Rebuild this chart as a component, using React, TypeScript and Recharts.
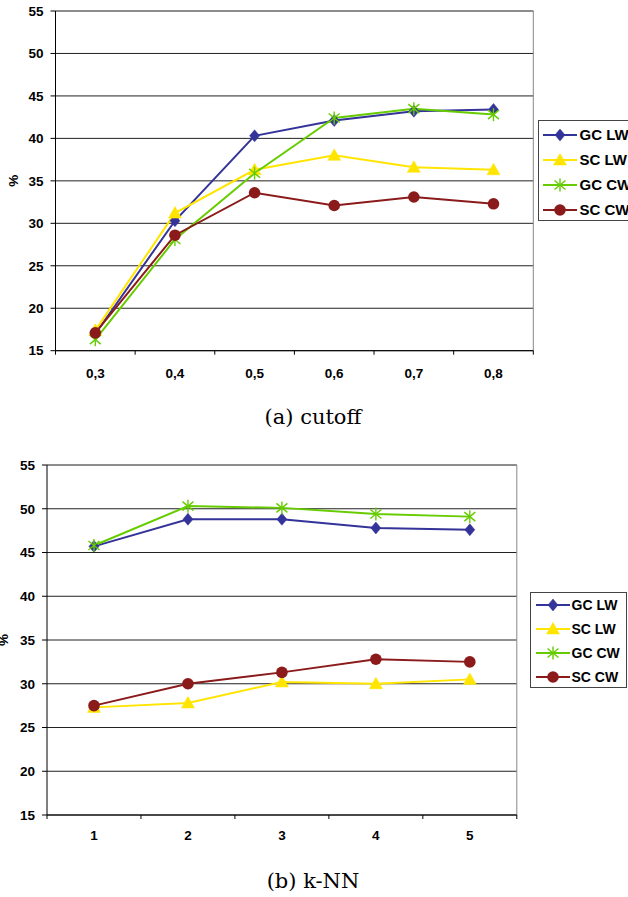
import React from 'react';
import { LineChart, Line, XAxis, YAxis, CartesianGrid, ReferenceLine } from 'recharts';

const cutoffLabels = ['0,3', '0,4', '0,5', '0,6', '0,7', '0,8'];
const cutoffGcLw = [17.0, 30.3, 40.3, 42.1, 43.2, 43.4];
const cutoffScLw = [17.4, 31.2, 36.3, 38.0, 36.6, 36.3];
const cutoffGcCw = [16.3, 28.1, 35.9, 42.4, 43.5, 42.8];
const cutoffScCw = [17.1, 28.6, 33.6, 32.1, 33.1, 32.3];

const knnLabels = ['1', '2', '3', '4', '5'];
const knnGcLw = [45.7, 48.8, 48.8, 47.8, 47.6];
const knnScLw = [27.3, 27.8, 30.2, 30.0, 30.5];
const knnGcCw = [45.8, 50.3, 50.1, 49.4, 49.1];
const knnScCw = [27.5, 30.0, 31.3, 32.8, 32.5];

const yTicks = [15, 20, 25, 30, 35, 40, 45, 50, 55];
const seriesNames = ['GC LW', 'SC LW', 'GC CW', 'SC CW'];
const seriesKeys = ['gcLw', 'scLw', 'gcCw', 'scCw'];
const seriesColors = ['#333399', '#FFE500', '#66CC00', '#8B1A1A'];
const seriesMarkers = ['diamond', 'triangle', 'star', 'circle'];

const SANS = "'Liberation Sans', Arial, sans-serif";
const TICK_FS = 13.5;

function buildRows(labels: string[], a: number[], b: number[], c: number[], d: number[]) {
  return labels.map((label, i) => ({ idx: i + 1, label, gcLw: a[i], scLw: b[i], gcCw: c[i], scCw: d[i] }));
}

const cutoffRows = buildRows(cutoffLabels, cutoffGcLw, cutoffScLw, cutoffGcCw, cutoffScCw);
const knnRows = buildRows(knnLabels, knnGcLw, knnScLw, knnGcCw, knnScCw);

function Marker({ kind, cx, cy, color }: { kind: string; cx: number; cy: number; color: string }) {
  if (kind === 'diamond') {
    return <polygon points={`${cx},${cy - 6} ${cx + 5},${cy} ${cx},${cy + 6} ${cx - 5},${cy}`} fill={color} stroke={color} strokeWidth={0.5} />;
  }
  if (kind === 'triangle') {
    return <polygon points={`${cx},${cy - 6.5} ${cx + 6.5},${cy + 5} ${cx - 6.5},${cy + 5}`} fill={color} stroke={color} strokeWidth={0.5} />;
  }
  if (kind === 'star') {
    return (
      <g stroke={color} strokeWidth={1.4}>
        <line x1={cx} y1={cy - 6.5} x2={cx} y2={cy + 6.5} />
        <line x1={cx - 5.5} y1={cy - 4.5} x2={cx + 5.5} y2={cy + 4.5} />
        <line x1={cx - 5.5} y1={cy + 4.5} x2={cx + 5.5} y2={cy - 4.5} />
      </g>
    );
  }
  return <circle cx={cx} cy={cy} r={5.8} fill={color} />;
}

function makeDot(kind: string, color: string) {
  return (props: any) => {
    const { cx, cy, index } = props;
    if (cx == null || cy == null) return <g key={`d-${index}`} />;
    return (
      <g key={`d-${kind}-${index}`}>
        <Marker kind={kind} cx={cx} cy={cy} color={color} />
      </g>
    );
  };
}

function makeXTick(labels: string[], labelOffset: number) {
  return (props: any) => {
    const { x, y, payload } = props;
    const v = payload.value;
    if (Number.isInteger(v)) {
      return (
        <text x={x} y={y + labelOffset} textAnchor="middle" fontFamily={SANS} fontWeight="bold" fontSize={TICK_FS} fill="#000">
          {labels[v - 1]}
        </text>
      );
    }
    return <line x1={x} y1={y} x2={x} y2={y + 4} stroke="#000" strokeWidth={1} />;
  };
}

function PctLabel(px: number) {
  return (props: any) => {
    const vb = props.viewBox || {};
    const cx = (vb.x || 0) + px;
    const cy = (vb.y || 0) + (vb.height || 0) / 2;
    return (
      <text x={cx} y={cy} transform={`rotate(-90 ${cx} ${cy})`} textAnchor="middle" dominantBaseline="central" fontFamily={SANS} fontWeight="bold" fontSize={TICK_FS} fill="#000">
        %
      </text>
    );
  };
}

type PanelProps = {
  rows: any[];
  labels: string[];
  width: number;
  height: number;
  margin: { top: number; right: number; bottom: number; left: number };
  yAxisWidth: number;
  labelOffset: number;
  pctX: number;
};

function Panel({ rows, labels, width, height, margin, yAxisWidth, labelOffset, pctX }: PanelProps) {
  const n = labels.length;
  const xTicks: number[] = [];
  for (let i = 0; i <= n * 2; i++) xTicks.push(0.5 + i * 0.5);
  return (
    <LineChart width={width} height={height} data={rows} margin={margin}>
      <CartesianGrid horizontal vertical={false} stroke="#222" strokeWidth={1} />
      <XAxis
        dataKey="idx"
        type="number"
        domain={[0.5, n + 0.5]}
        ticks={xTicks}
        interval={0}
        tickLine={false}
        tickSize={0}
        tickMargin={0}
        height={30}
        axisLine={{ stroke: '#000', strokeWidth: 1 }}
        tick={makeXTick(labels, labelOffset)}
      />
      <YAxis
        type="number"
        domain={[15, 55]}
        ticks={yTicks}
        interval={0}
        width={yAxisWidth}
        tickSize={5}
        tickMargin={7}
        axisLine={{ stroke: '#000', strokeWidth: 1 }}
        tickLine={{ stroke: '#000', strokeWidth: 1 }}
        tick={{ fontFamily: SANS, fontWeight: 'bold', fontSize: TICK_FS, fill: '#000' }}
        label={{ content: PctLabel(pctX) } as any}
      />
      <ReferenceLine y={55} stroke="#888" strokeWidth={1} />
      <ReferenceLine x={n + 0.5} stroke="#888" strokeWidth={1} />
      {seriesKeys.map((k, i) => (
        <Line
          key={k}
          dataKey={k}
          name={seriesNames[i]}
          stroke={seriesColors[i]}
          strokeWidth={2}
          isAnimationActive={false}
          dot={makeDot(seriesMarkers[i], seriesColors[i])}
          activeDot={false}
        />
      ))}
    </LineChart>
  );
}

function LegendBox({ left, top, width, height, rowGap, firstRow, sampleLeft, sampleWidth, textLeft, fontSize }: any) {
  return (
    <div
      style={{
        position: 'absolute',
        left,
        top,
        width,
        height,
        border: '1px solid #444',
        boxSizing: 'border-box',
        background: '#fff',
      }}
    >
      {seriesNames.map((name, i) => {
        const cy = firstRow + i * rowGap;
        return (
          <div key={name}>
            <svg style={{ position: 'absolute', left: sampleLeft, top: cy - 8 }} width={sampleWidth} height={16}>
              <line x1={0} y1={8} x2={sampleWidth} y2={8} stroke={seriesColors[i]} strokeWidth={2} />
              <Marker kind={seriesMarkers[i]} cx={sampleWidth / 2} cy={8} color={seriesColors[i]} />
            </svg>
            <div
              style={{
                position: 'absolute',
                left: textLeft,
                top: cy - fontSize * 0.6,
                fontFamily: SANS,
                fontWeight: 'bold',
                fontSize,
                lineHeight: `${fontSize * 1.2}px`,
                whiteSpace: 'nowrap',
                color: '#000',
              }}
            >
              {name}
            </div>
          </div>
        );
      })}
    </div>
  );
}

const captionStyle: React.CSSProperties = {
  position: 'absolute',
  left: 0,
  width: 626,
  textAlign: 'center',
  fontFamily: "'DejaVu Serif', serif",
  fontSize: 21,
  lineHeight: '24px',
  color: '#000',
};

export default function App() {
  return (
    <div style={{ position: 'absolute', left: 0, top: 0, width: 628, height: 897, overflow: 'hidden', background: '#fff' }}>
      <div style={{ position: 'absolute', left: 0, top: 0 }}>
        <Panel
          rows={cutoffRows}
          labels={cutoffLabels}
          width={628}
          height={400}
          margin={{ top: 11, right: 94.7, bottom: 19.3, left: 0 }}
          yAxisWidth={55.5}
          labelOffset={27.3}
          pctX={14}
        />
      </div>
      <LegendBox left={537.5} top={120} width={100} height={100.5} rowGap={25} firstRow={14.3} sampleLeft={4.5} sampleWidth={34} textLeft={41} fontSize={15} />
      <div style={{ ...captionStyle, top: 405 }}>(a) cutoff</div>

      <div style={{ position: 'absolute', left: 0, top: 450 }}>
        <Panel
          rows={knnRows}
          labels={knnLabels}
          width={628}
          height={420}
          margin={{ top: 15, right: 111.2, bottom: 25, left: 0 }}
          yAxisWidth={47}
          labelOffset={25.4}
          pctX={3.5}
        />
      </div>
      <LegendBox left={530} top={591.7} width={97} height={96} rowGap={24} firstRow={12.3} sampleLeft={4.5} sampleWidth={34} textLeft={40.5} fontSize={14} />
      <div style={{ ...captionStyle, top: 869 }}>(b) k-NN</div>
    </div>
  );
}
